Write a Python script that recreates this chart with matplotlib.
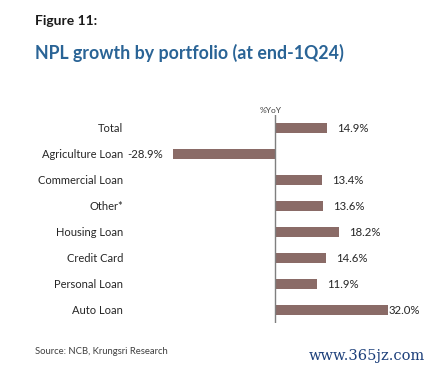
import matplotlib.pyplot as plt

categories = ["Total", "Agriculture Loan", "Commercial Loan", "Other*",
              "Housing Loan", "Credit Card", "Personal Loan", "Auto Loan"]
growth = [14.9, -28.9, 13.4, 13.6, 18.2, 14.6, 11.9, 32.0]

W, H = 432, 372
plt.rcParams['font.family'] = ['Lato', 'DejaVu Sans']

fig = plt.figure(figsize=(W / 100, H / 100), dpi=100)
fig.patch.set_facecolor('white')

# axes box in pixels: left 130, right 420, top 115, bottom 323
ax = fig.add_axes([130 / W, (H - 323) / H, 290 / W, 208 / H])
px_per_unit = 3.52
ax.set_xlim(-(275 - 130) / px_per_unit, (420 - 275) / px_per_unit)
ax.set_ylim(len(categories) - 0.5, -0.5)

bar_color = '#8a6b67'
ypos = range(len(categories))
ax.barh(ypos, growth, height=0.35, color=bar_color, zorder=2)
ax.axvline(0, color='#7f7f7f', linewidth=1, zorder=3)

for y, v in zip(ypos, growth):
    label = f'{v:.1f}%'
    if v < 0:
        ax.annotate(label, (v, y), xytext=(-10, 0), textcoords='offset pixels',
                    ha='right', va='center', fontsize=8.2, color='#262626')
    elif v > 30:
        ax.annotate(label, (v, y), xytext=(1, 0), textcoords='offset pixels',
                    ha='left', va='center', fontsize=8.2, color='#262626')
    else:
        ax.annotate(label, (v, y), xytext=(10, 0), textcoords='offset pixels',
                    ha='left', va='center', fontsize=8.2, color='#262626')

ax.set_yticks(list(ypos))
ax.set_yticklabels(categories, fontsize=8, color='#262626')
ax.tick_params(axis='y', length=0, pad=5)
ax.set_xticks([])
for s in ax.spines.values():
    s.set_visible(False)

ax.text(-1.2, -0.55, '%YoY', ha='center', va='bottom',
        fontsize=6, color='#404040')

fig.text(35 / W, 1 - 25 / H, 'Figure 11:', fontsize=10, fontweight='bold',
         color='#1a1a1a', ha='left', va='baseline')
fig.text(35 / W, 1 - 59 / H, 'NPL growth by portfolio (at end-1Q24)', fontsize=12.8,
         fontweight='bold', color='#2a6496', ha='left', va='baseline')
fig.text(35 / W, 1 - 354 / H, 'Source: NCB, Krungsri Research', fontsize=6.8,
         color='#404040', ha='left', va='baseline')
fig.text(425 / W, 1 - 360 / H, 'www.365jz.com', fontsize=10.5, family='DejaVu Serif',
         color='#1c3f7a', ha='right', va='baseline')

fig.savefig('out.png', dpi=100)
